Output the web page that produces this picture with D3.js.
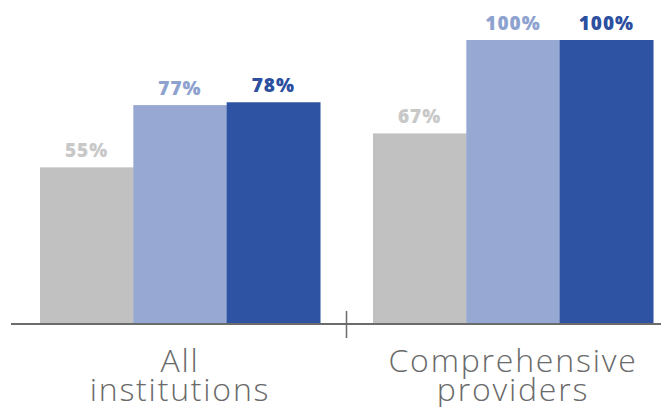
<!DOCTYPE html>
<head>
    <meta charset="utf-8">
    <script src="https://d3js.org/d3.v7.min.js"></script>
    <style>
        body { margin: 0; background: #ffffff; }
        text.valueLabel {
            font-family: "Open Sans", sans-serif;
            font-weight: 800;
            font-size: 19px;
            letter-spacing: 1px;
        }
        text.catLabel {
            font-family: "Open Sans", sans-serif;
            font-weight: 300;
            font-size: 32px;
            fill: #6a6a6a;
            letter-spacing: 1.8px;
        }
    </style>
</head>
<body>
<script>
    var width = 661, height = 407;

    var groups = ["All institutions", "Comprehensive providers"];
    var groupLines = [["All", "institutions"], ["Comprehensive", "providers"]];
    var series = ["s1", "s2", "s3"];
    var values = [
        [55, 77, 78],
        [67, 100, 100]
    ];
    var barColors = ["#c1c1c1", "#97a9d3", "#2e53a3"];
    var labelColors = ["#c8c8c8", "#8ea2d0", "#2c4f9f"];

    var svg = d3.select("body").append("svg")
        .attr("width", width)
        .attr("height", height);

    var baseline = 323;

    var x0 = d3.scaleBand()
        .domain(groups)
        .range([13.5, 679.5])
        .paddingInner(0.159)
        .paddingOuter(0.0795);

    var x1 = d3.scaleBand()
        .domain(series)
        .range([0, x0.bandwidth()]);

    var y = d3.scaleLinear()
        .domain([0, 100])
        .range([baseline, 40]);

    var g = svg.selectAll("g.group")
        .data(groups)
        .enter()
        .append("g")
        .attr("class", "group")
        .attr("transform", d => `translate(${x0(d)},0)`);

    g.selectAll("rect")
        .data((d, i) => values[i].map((v, j) => ({key: series[j], value: v, idx: j})))
        .enter()
        .append("rect")
        .attr("x", d => x1(d.key))
        .attr("width", x1.bandwidth() + 0.5)
        .attr("y", d => y(d.value))
        .attr("height", d => baseline - y(d.value))
        .style("fill", d => barColors[d.idx]);

    g.selectAll("text.valueLabel")
        .data((d, i) => values[i].map((v, j) => ({key: series[j], value: v, idx: j})))
        .enter()
        .append("text")
        .attr("class", "valueLabel")
        .attr("x", d => x1(d.key) + x1.bandwidth() / 2)
        .attr("y", d => y(d.value) - 10)
        .style("text-anchor", "middle")
        .style("fill", d => labelColors[d.idx])
        .text(d => d.value + "%");

    // axis line and separator tick
    svg.append("line")
        .attr("x1", 11).attr("x2", width)
        .attr("y1", baseline + 1).attr("y2", baseline + 1)
        .style("stroke", "#6b6b6b")
        .style("stroke-width", 2);

    var sep = (x0(groups[0]) + x0.bandwidth() + x0(groups[1])) / 2;
    svg.append("line")
        .attr("x1", sep).attr("x2", sep)
        .attr("y1", 311).attr("y2", 338)
        .style("stroke", "#6b6b6b")
        .style("stroke-width", 1.5);

    // category labels
    g.each(function(d, i) {
        var t = d3.select(this).append("text")
            .attr("class", "catLabel")
            .style("text-anchor", "middle");
        groupLines[i].forEach((line, k) => {
            t.append("tspan")
                .attr("x", x0.bandwidth() / 2)
                .attr("y", 372 + k * 29)
                .text(line);
        });
    });
</script>
</body>
